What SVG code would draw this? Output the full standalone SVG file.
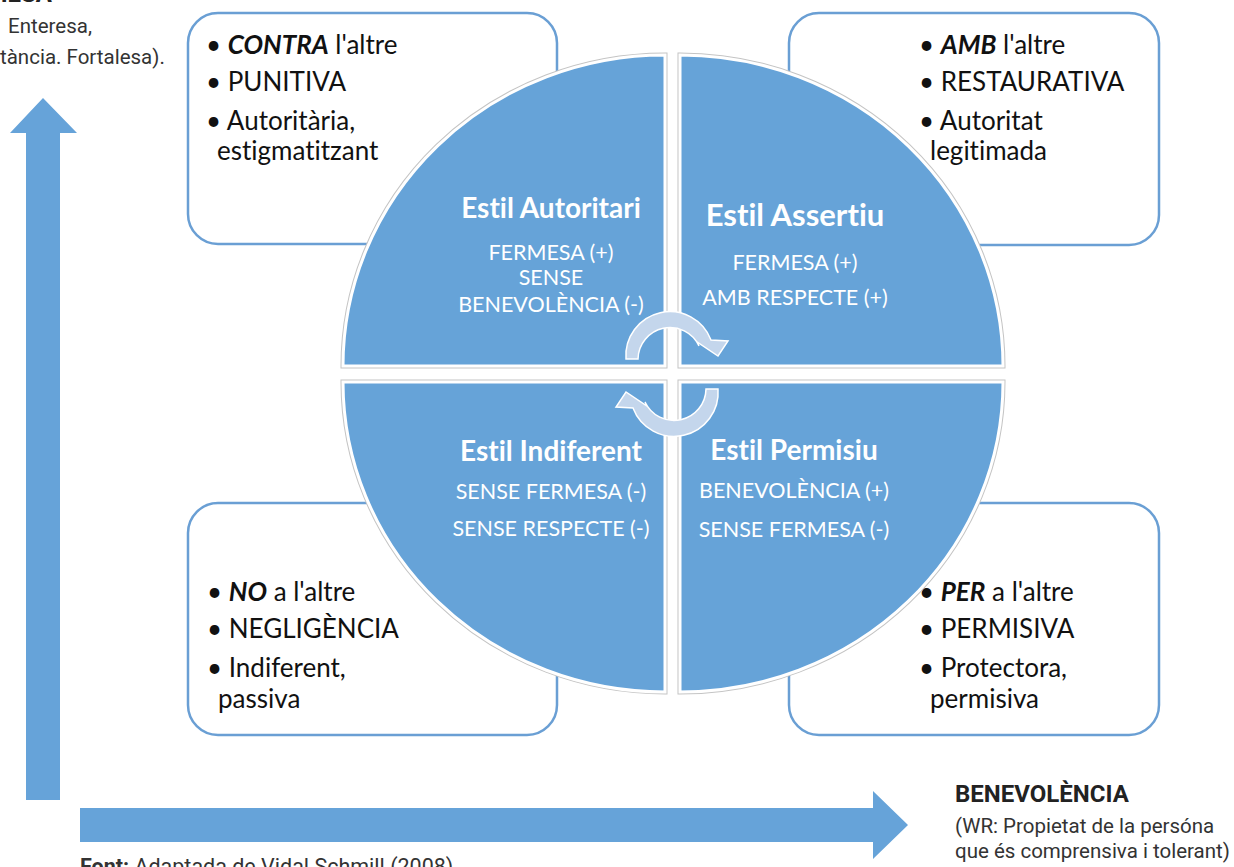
<svg xmlns="http://www.w3.org/2000/svg" width="1234" height="867" viewBox="0 0 1234 867">
  <style>
    .box { fill: #ffffff; stroke: #6a9fd4; stroke-width: 2.5; }
    .btxt { font-family: Lato, "Open Sans", sans-serif; font-size: 26px; fill: #111111; font-variant-ligatures: none; }
    .quad-edge { fill: none; stroke: #c4c4c4; stroke-width: 5; }
    .quad { fill: #66a3d8; stroke: #ffffff; stroke-width: 3; }
    .title { font-family: Lato, "Open Sans", sans-serif; font-weight: bold; font-size: 28px; fill: #ffffff; text-anchor: middle; font-variant-ligatures: none; }
    .title-lg { font-size: 31px; }
    .sub { font-family: Lato, "Open Sans", sans-serif; font-size: 21.5px; fill: #ffffff; text-anchor: middle; }
    .turn { fill: #c4d6ec; stroke: #ffffff; stroke-width: 1.5; }
    .axis { fill: #66a3d9; }
    .side { font-family: Roboto, "Liberation Sans", sans-serif; font-size: 20.5px; fill: #333333; }
    .source { font-size: 21.5px; }
    .side-head { font-family: Roboto, "Liberation Sans", sans-serif; font-size: 24px; font-weight: bold; fill: #222222; }
  </style>
  <defs>
    <!-- curved arrow: band over the top, head pointing down on the right -->
    <path id="turn-arrow" d="M626,359 A44,44 0 0 1 711,340 L728,341 L718,356 L697,342 L699,346 A32,32 0 0 0 638,359 Z"/>
  </defs>

  <rect width="1234" height="867" fill="#ffffff"/>

  <!-- side labels of the axes -->
  <g id="axis-labels">
    <text class="side-head" x="52" y="2" text-anchor="end">FERMESA</text>
    <text class="side" x="8" y="33">Enteresa,</text>
    <text class="side" x="0" y="64">tància. Fortalesa).</text>
    <text class="side-head" x="955" y="802">BENEVOLÈNCIA</text>
    <text class="side" x="955" y="833">(WR: Propietat de la persóna</text>
    <text class="side" x="955" y="858">que és comprensiva i tolerant)</text>
    <text class="side source" x="80" y="874"><tspan font-weight="bold">Font:</tspan> Adaptada de Vidal Schmill (2008)</text>
  </g>

  <!-- axis arrows -->
  <g id="axes">
    <path class="axis" d="M26,800 L26,133 L10,133 L43,98 L77,133 L60,133 L60,800 Z"/>
    <path class="axis" d="M80,808 L873,808 L873,791 L908,825 L873,859 L873,842 L80,842 Z"/>
  </g>

  <!-- description boxes -->
  <g id="box-contra">
    <rect class="box" x="188" y="13" width="369" height="231" rx="30"/>
    <text class="btxt" x="206" y="54">• <tspan font-weight="bold" font-style="italic">CONTRA</tspan> l'altre</text>
    <text class="btxt" x="206" y="91">• PUNITIVA</text>
    <text class="btxt" x="206" y="130">• Autoritària,</text>
    <text class="btxt" x="217" y="160">estigmatitzant</text>
  </g>
  <g id="box-amb">
    <rect class="box" x="789" y="13" width="370" height="232" rx="30"/>
    <text class="btxt" x="919" y="54">• <tspan font-weight="bold" font-style="italic">AMB</tspan> l'altre</text>
    <text class="btxt" x="919" y="91">• RESTAURATIVA</text>
    <text class="btxt" x="919" y="130">• Autoritat</text>
    <text class="btxt" x="930" y="160">legitimada</text>
  </g>
  <g id="box-no">
    <rect class="box" x="188" y="503" width="369" height="232" rx="30"/>
    <text class="btxt" x="207" y="601">• <tspan font-weight="bold" font-style="italic">NO</tspan> a l'altre</text>
    <text class="btxt" x="207" y="638">• NEGLIGÈNCIA</text>
    <text class="btxt" x="207" y="677">• Indiferent,</text>
    <text class="btxt" x="218" y="708">passiva</text>
  </g>
  <g id="box-per">
    <rect class="box" x="789" y="503" width="370" height="232" rx="30"/>
    <text class="btxt" x="919" y="601">• <tspan font-weight="bold" font-style="italic">PER</tspan> a l'altre</text>
    <text class="btxt" x="919" y="638">• PERMISIVA</text>
    <text class="btxt" x="919" y="677">• Protectora,</text>
    <text class="btxt" x="930" y="708">permisiva</text>
  </g>

  <!-- quadrants of the central circle -->
  <g id="estil-autoritari">
    <path class="quad-edge" d="M665,366 L343,366 A322,311 0 0 1 665,55 Z"/>
    <path class="quad" d="M665,366 L343,366 A322,311 0 0 1 665,55 Z"/>
    <text class="title" x="551" y="218">Estil Autoritari</text>
    <text class="sub" x="551" y="260">FERMESA (+)</text>
    <text class="sub" x="551" y="285">SENSE</text>
    <text class="sub" x="551" y="312">BENEVOLÈNCIA (-)</text>
  </g>
  <g id="estil-assertiu">
    <path class="quad-edge" d="M680,366 L680,55 A323,311 0 0 1 1003,366 Z"/>
    <path class="quad" d="M680,366 L680,55 A323,311 0 0 1 1003,366 Z"/>
    <text class="title title-lg" x="795" y="226">Estil Assertiu</text>
    <text class="sub" x="795" y="270">FERMESA (+)</text>
    <text class="sub" x="795" y="305">AMB RESPECTE (+)</text>
  </g>
  <g id="estil-indiferent">
    <path class="quad-edge" d="M665,382 L665,692 A322,310 0 0 1 343,382 Z"/>
    <path class="quad" d="M665,382 L665,692 A322,310 0 0 1 343,382 Z"/>
    <text class="title" x="551" y="461">Estil Indiferent</text>
    <text class="sub" x="551" y="499">SENSE FERMESA (-)</text>
    <text class="sub" x="551" y="536">SENSE RESPECTE (-)</text>
  </g>
  <g id="estil-permisiu">
    <path class="quad-edge" d="M680,382 L1003,382 A323,310 0 0 1 680,692 Z"/>
    <path class="quad" d="M680,382 L1003,382 A323,310 0 0 1 680,692 Z"/>
    <text class="title" x="794" y="460">Estil Permisiu</text>
    <text class="sub" x="794" y="498">BENEVOLÈNCIA (+)</text>
    <text class="sub" x="794" y="537">SENSE FERMESA (-)</text>
  </g>

  <!-- cycle arrows across the centre -->
  <g id="connectors">
    <use href="#turn-arrow" class="turn"/>
    <use href="#turn-arrow" class="turn" transform="rotate(180 672 374)"/>
  </g>
</svg>
